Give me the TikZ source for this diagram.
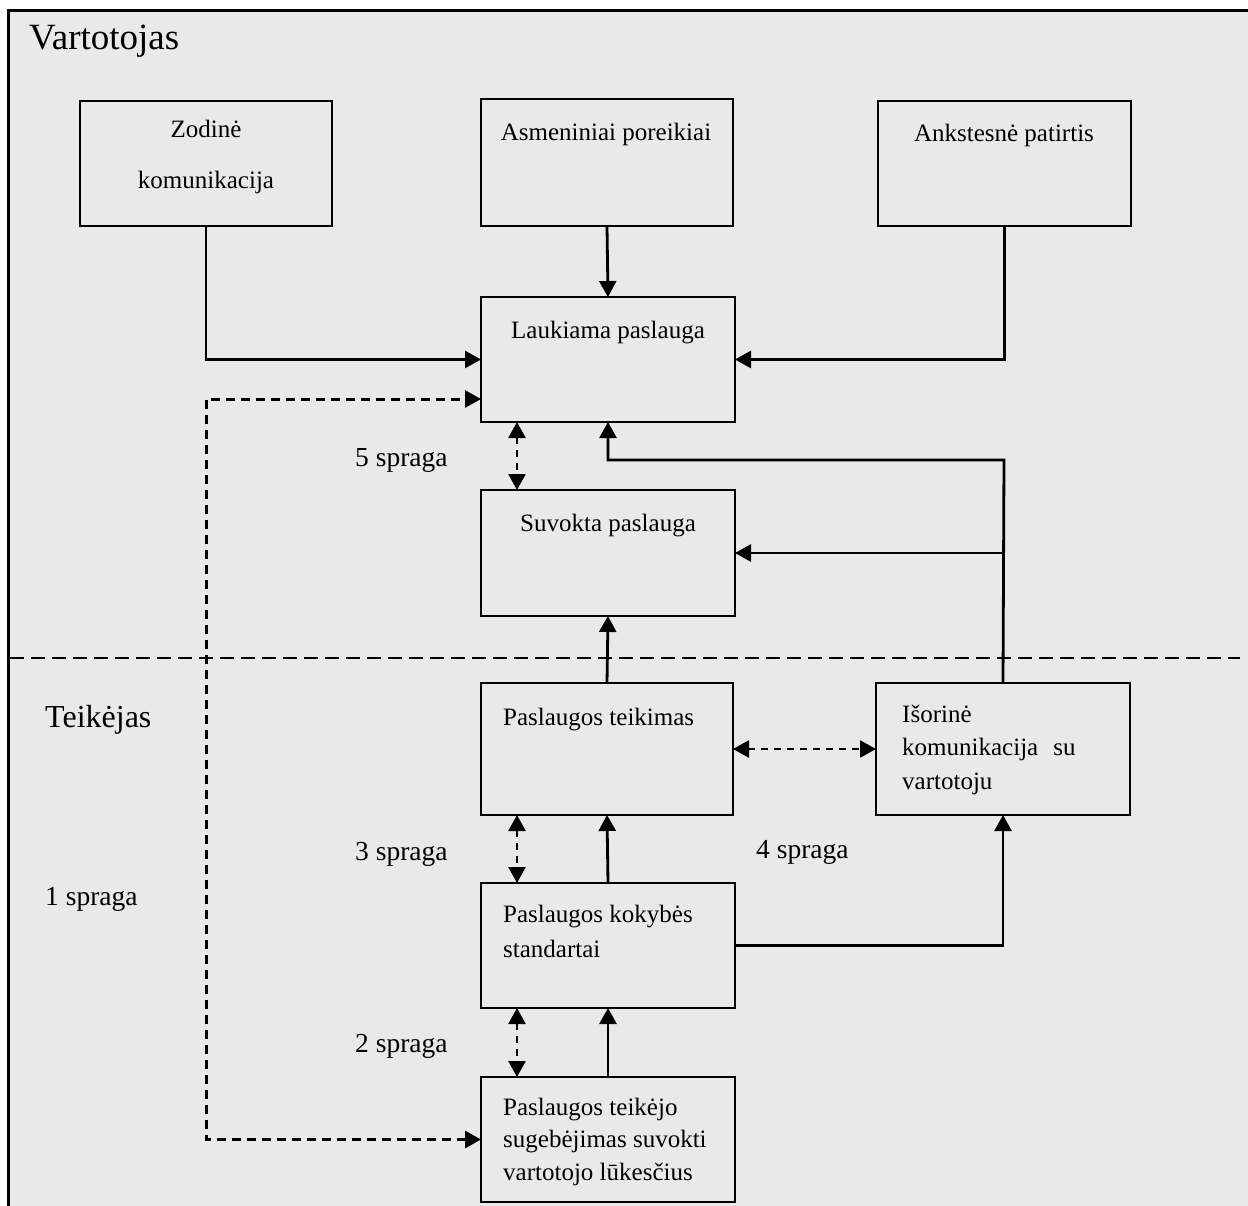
\documentclass[tikz,border=0pt]{standalone}
\usepackage{fontspec}
\setmainfont{Liberation Serif}
\usetikzlibrary{arrows.meta}
\definecolor{bgc}{RGB}{233,233,233}
\begin{document}
\begin{tikzpicture}[x=1pt,y=-1pt,
  box/.style={draw, line width=2.4pt, fill=bgc, anchor=north west, inner sep=0pt, outer sep=0pt},
  btxt/.style={inner sep=0pt, font=\fontsize{25}{30}\selectfont},
  gtxt/.style={inner sep=0pt, font=\fontsize{27.5}{30}\selectfont},
  tip/.style={},
  arr/.style={line width=2.8pt, -{Triangle[length=16pt,width=17pt]}},
  gaparr/.style={line width=2.6pt, dash pattern=on 7pt off 6pt, {Triangle[length=16pt,width=17pt]}-{Triangle[length=16pt,width=17pt]}},
  longdash/.style={line width=3pt, dash pattern=on 9pt off 6pt, {Triangle[length=16pt,width=17pt]}-{Triangle[length=16pt,width=17pt]}},
  sepline/.style={line width=2.6pt, dash pattern=on 14pt off 7pt}
]
\useasboundingbox (0,0) rectangle (1248,1206);
\fill[bgc] (8,11) rectangle (1248,1206);
\draw[line width=3pt] (8,1206) -- (8,11) -- (1248,11);

% separator
\coordinate (sepL) at (10,658);
\coordinate (sepR) at (1240,658);
\draw[sepline] (sepL) -- (sepR);

% boxes
\node[box, minimum width=252pt, minimum height=125pt] (zod) at (80,101) {};
\node[box, minimum width=252pt, minimum height=127pt] (asm) at (481,99) {};
\node[box, minimum width=253pt, minimum height=125pt] (ank) at (878,101) {};
\node[box, minimum width=254pt, minimum height=125pt] (lauk) at (481,297) {};
\node[box, minimum width=254pt, minimum height=126pt] (suv) at (481,490) {};
\node[box, minimum width=252pt, minimum height=132pt] (tei) at (481,683) {};
\node[box, minimum width=254pt, minimum height=132pt] (isor) at (876,683) {};
\node[box, minimum width=254pt, minimum height=125pt] (kok) at (481,883) {};
\node[box, minimum width=254pt, minimum height=125pt] (teik) at (481,1077) {};

% box texts
\node[btxt, anchor=base] (tzod1) at (206,138) {Zodinė};
\node[btxt, anchor=base] (tzod2) at (206,189) {komunikacija};
\node[btxt, anchor=base] (tasm) at (606,141) {Asmeniniai poreikiai};
\node[btxt, anchor=base] (tank) at (1004,142) {Ankstesnė patirtis};
\node[btxt, anchor=base] (tlauk) at (608,338) {Laukiama paslauga};
\node[btxt, anchor=base] (tsuv) at (608,531) {Suvokta paslauga};
\node[btxt, anchor=base west] (ttei) at (503,725) {Paslaugos teikimas};
\node[btxt, anchor=base west] (tisor1) at (902,722) {Išorinė};
\node[btxt, anchor=base west] (tisor2) at (902,755) {komunikacija\hspace{0.6em}su};
\node[btxt, anchor=base west] (tisor3) at (902,789) {vartotoju};
\node[btxt, anchor=base west] (tkok1) at (503,922) {Paslaugos kokybės};
\node[btxt, anchor=base west] (tkok2) at (503,957) {standartai};
\node[btxt, anchor=base west] (tteik1) at (503,1115) {Paslaugos teikėjo};
\node[btxt, anchor=base west] (tteik2) at (503,1147) {sugebėjimas suvokti};
\node[btxt, anchor=base west] (tteik3) at (503,1180) {vartotojo lūkesčius};

% region labels
\node[inner sep=0pt, anchor=base west, font=\fontsize{37}{40}\selectfont] (vart) at (29,50) {Vartotojas};
\node[inner sep=0pt, anchor=base west, font=\fontsize{32}{36}\selectfont] (teikejas) at (45,727) {Teikėjas};

% gap labels
\node[gtxt, anchor=base west] (g1) at (45,905) {1 spraga};
\node[gtxt, anchor=base west] (g5) at (355,466) {5 spraga};
\node[gtxt, anchor=base west] (g3) at (355,860) {3 spraga};
\node[gtxt, anchor=base west] (g4) at (756,858) {4 spraga};
\node[gtxt, anchor=base west] (g2) at (355,1052) {2 spraga};

% connectors
\draw[arr] (zod.south) |- (lauk.west);
\draw[arr] (ank.south) |- (lauk.east);
\draw[arr] (asm.south) -- (lauk.north);

\coordinate (dl) at (206,399);
\draw[longdash] (teik.west) -| (dl) -- (dl -| lauk.west);

\draw[gaparr] ([xshift=-91pt]lauk.south) -- ([xshift=-91pt]suv.north);

\coordinate (fb) at (1004,460);
\draw[arr] (isor.north) -- (fb) -| (lauk.south);
\draw[arr] (isor.north |- suv.east) -- (suv.east);

\draw[arr] (tei.north) -- (suv.south);
\draw[gaparr] (tei.east) -- (isor.west);

\draw[gaparr] ([xshift=-90pt]tei.south) -- ([xshift=-91pt]kok.north);
\draw[arr] (kok.north) -- (tei.south);

\draw[arr] (kok.east) -| (isor.south);

\draw[gaparr] ([xshift=-91pt]kok.south) -- ([xshift=-91pt]teik.north);
\draw[arr] (teik.north) -- (kok.south);
\end{tikzpicture}
\end{document}
